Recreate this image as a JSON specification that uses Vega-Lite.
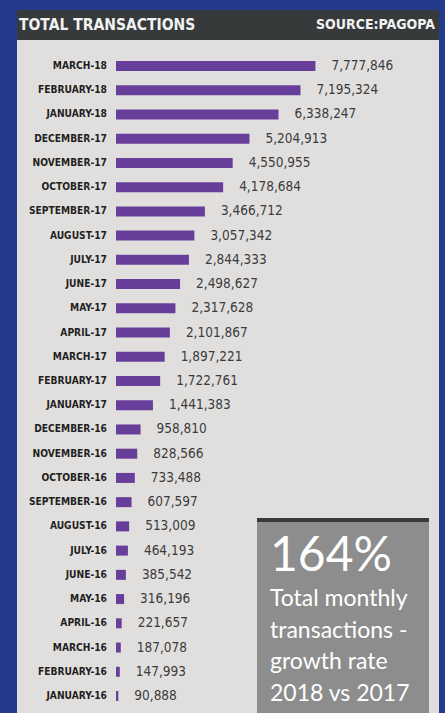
{
  "$schema": "https://vega.github.io/schema/vega-lite/v6.json",
  "background": "#243b8b",
  "padding": {"left": 17, "top": 10, "right": 6, "bottom": 0},
  "spacing": 0,
  "config": {"view": {"stroke": null}, "font": "DejaVu Sans Condensed, sans-serif"},
  "datasets": {
    "monthly": [
      {"month": "MARCH-18", "value": 7777846},
      {"month": "FEBRUARY-18", "value": 7195324},
      {"month": "JANUARY-18", "value": 6338247},
      {"month": "DECEMBER-17", "value": 5204913},
      {"month": "NOVEMBER-17", "value": 4550955},
      {"month": "OCTOBER-17", "value": 4178684},
      {"month": "SEPTEMBER-17", "value": 3466712},
      {"month": "AUGUST-17", "value": 3057342},
      {"month": "JULY-17", "value": 2844333},
      {"month": "JUNE-17", "value": 2498627},
      {"month": "MAY-17", "value": 2317628},
      {"month": "APRIL-17", "value": 2101867},
      {"month": "MARCH-17", "value": 1897221},
      {"month": "FEBRUARY-17", "value": 1722761},
      {"month": "JANUARY-17", "value": 1441383},
      {"month": "DECEMBER-16", "value": 958810},
      {"month": "NOVEMBER-16", "value": 828566},
      {"month": "OCTOBER-16", "value": 733488},
      {"month": "SEPTEMBER-16", "value": 607597},
      {"month": "AUGUST-16", "value": 513009},
      {"month": "JULY-16", "value": 464193},
      {"month": "JUNE-16", "value": 385542},
      {"month": "MAY-16", "value": 316196},
      {"month": "APRIL-16", "value": 221657},
      {"month": "MARCH-16", "value": 187078},
      {"month": "FEBRUARY-16", "value": 147993},
      {"month": "JANUARY-16", "value": 90888}
    ],
    "header": [
      {"label": "TOTAL TRANSACTIONS", "side": "left"},
      {"label": "SOURCE:PAGOPA", "side": "right"}
    ],
    "note": [
      {"big": "164%", "lines": ["Total monthly", "transactions -", "growth rate", "2018 vs 2017"]}
    ]
  },
  "vconcat": [
    {
      "width": 422,
      "height": 30,
      "view": {"fill": "#363a3b", "stroke": null},
      "data": {"name": "header"},
      "layer": [
        {
          "transform": [{"filter": "datum.side === 'left'"}],
          "mark": {"type": "text", "align": "left", "dx": 2, "fontSize": 15.5, "fontWeight": "bold", "color": "#f2f2f2"},
          "encoding": {
            "x": {"datum": 0, "type": "quantitative", "axis": null, "scale": {"domain": [0, 1], "nice": false}},
            "text": {"field": "label"}
          }
        },
        {
          "transform": [{"filter": "datum.side === 'right'"}],
          "mark": {"type": "text", "align": "right", "dx": -4, "fontSize": 14, "fontWeight": "bold", "color": "#f2f2f2"},
          "encoding": {
            "x": {"datum": 1, "type": "quantitative"},
            "text": {"field": "label"}
          }
        }
      ]
    },
    {
      "width": 422,
      "height": 673,
      "view": {"fill": "#e1dfde", "stroke": null},
      "data": {"name": "monthly"},
      "encoding": {
        "y": {
          "field": "month",
          "type": "nominal",
          "sort": null,
          "axis": null,
          "scale": {
            "type": "band",
            "domain": ["MARCH-18","FEBRUARY-18","JANUARY-18","DECEMBER-17","NOVEMBER-17","OCTOBER-17","SEPTEMBER-17","AUGUST-17","JULY-17","JUNE-17","MAY-17","APRIL-17","MARCH-17","FEBRUARY-17","JANUARY-17","DECEMBER-16","NOVEMBER-16","OCTOBER-16","SEPTEMBER-16","AUGUST-16","JULY-16","JUNE-16","MAY-16","APRIL-16","MARCH-16","FEBRUARY-16","JANUARY-16"],
            "range": [21, 661],
            "paddingInner": 0.587,
            "paddingOuter": 0
          }
        }
      },
      "layer": [
        {
          "mark": {"type": "bar", "color": "#673f9b"},
          "encoding": {
            "x": {"field": "value", "type": "quantitative", "axis": null, "scale": {"domain": [-3861000, 12597000], "nice": false}}
          }
        },
        {
          "mark": {"type": "text", "align": "left", "dx": 16, "fontSize": 13.5, "color": "#3b3b3b"},
          "encoding": {
            "x": {"field": "value", "type": "quantitative"},
            "text": {"field": "value", "format": ",d"}
          }
        },
        {
          "mark": {"type": "text", "align": "right", "dx": -9, "fontSize": 10.2, "fontWeight": "bold", "color": "#1f1f1f"},
          "encoding": {
            "x": {"datum": 0, "type": "quantitative"},
            "text": {"field": "month"}
          }
        },
        {
          "data": {"name": "note"},
          "mark": {"type": "rect", "color": "#8c8d8c"},
          "encoding": {
            "x": {"datum": 5499000, "type": "quantitative"},
            "x2": {"datum": 12207000},
            "y": {"datum": "AUGUST-16", "type": "nominal", "bandPosition": -0.14},
            "y2": {"value": "height"}
          }
        },
        {
          "data": {"name": "note"},
          "mark": {"type": "rule", "color": "#3a3a3a", "strokeWidth": 4},
          "encoding": {
            "x": {"datum": 5499000, "type": "quantitative"},
            "x2": {"datum": 12207000},
            "y": {"datum": "AUGUST-16", "type": "nominal", "bandPosition": -0.14}
          }
        },
        {
          "data": {"name": "note"},
          "mark": {"type": "text", "align": "left", "baseline": "alphabetic", "font": "Lato", "fontSize": 48, "color": "#ffffff"},
          "encoding": {
            "x": {"datum": 6006000, "type": "quantitative"},
            "y": {"datum": "JUNE-16", "type": "nominal", "bandPosition": 0.12},
            "text": {"field": "big"}
          }
        },
        {
          "data": {"name": "note"},
          "mark": {"type": "text", "align": "left", "baseline": "alphabetic", "font": "Lato", "fontSize": 23, "lineHeight": 31.5, "color": "#ffffff"},
          "encoding": {
            "x": {"datum": 6006000, "type": "quantitative"},
            "y": {"datum": "MAY-16", "type": "nominal", "bandPosition": 1.2},
            "text": {"field": "lines"}
          }
        }
      ]
    }
  ]
}
